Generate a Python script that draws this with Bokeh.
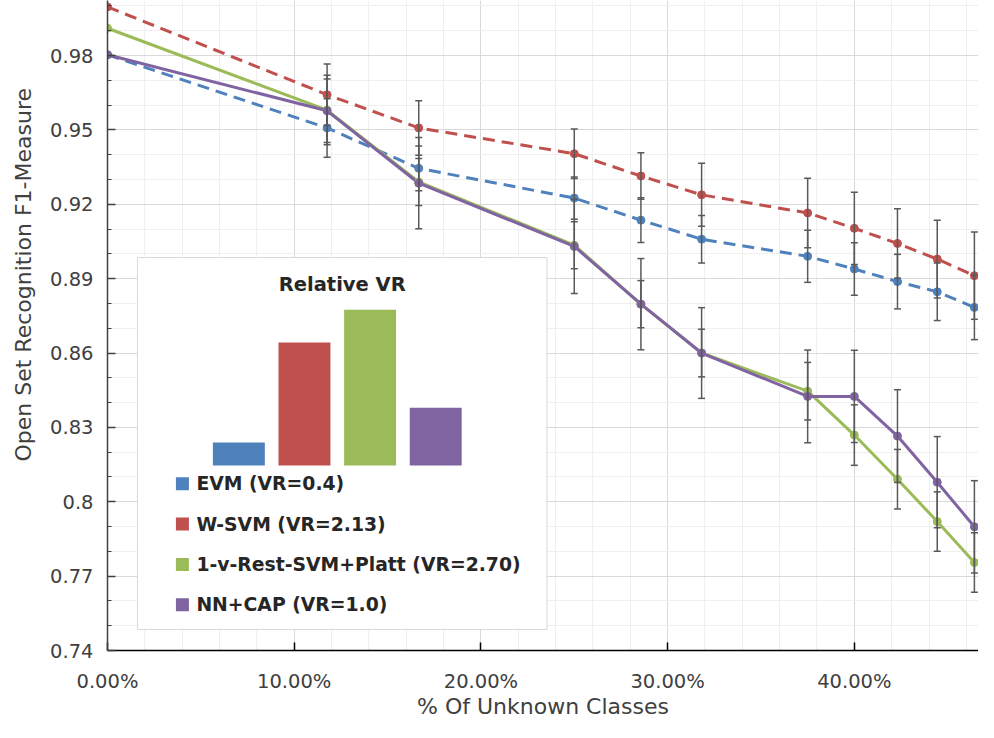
from bokeh.plotting import figure
from bokeh.models import (Range1d, FixedTicker, NumeralTickFormatter, CustomJSTickFormatter,
                          ColumnDataSource, Whisker, TeeHead, Title)
from bokeh.core.properties import value
from bokeh.embed import file_html
from bokeh.resources import INLINE

# ---------------- data ----------------
pct_unknown = [0.0, 0.1176, 0.1667, 0.25, 0.2857, 0.3182, 0.375, 0.40, 0.4231, 0.4444, 0.4643]

evm_f1 = [0.9803, 0.9508, 0.9345, 0.9225, 0.9136, 0.9059, 0.8990, 0.8939, 0.8888, 0.8847, 0.8784]
wsvm_f1 = [0.9996, 0.9642, 0.9508, 0.9404, 0.9314, 0.9238, 0.9165, 0.9103, 0.9042, 0.8979, 0.8912]
platt_f1 = [0.9910, 0.9580, 0.9290, 0.9035, 0.8797, 0.8600, 0.8446, 0.8269, 0.8091, 0.7920, 0.7755]
nncap_f1 = [0.9803, 0.9577, 0.9285, 0.9030, 0.8797, 0.8600, 0.8425, 0.8425, 0.8265, 0.8079, 0.7899]

evm_err = [0.0, 0.0118, 0.0090, 0.0085, 0.0090, 0.0096, 0.0105, 0.0106, 0.0110, 0.0116, 0.0130]
wsvm_err = [0.0, 0.0124, 0.0110, 0.0100, 0.0094, 0.0127, 0.0140, 0.0146, 0.0140, 0.0157, 0.0176]
platt_err = [0.0, 0.0140, 0.0095, 0.0095, 0.0095, 0.0096, 0.0116, 0.0122, 0.0120, 0.0120, 0.0120]
nncap_err = [0.0, 0.0128, 0.0184, 0.0190, 0.0184, 0.0183, 0.0187, 0.0186, 0.0187, 0.0184, 0.0186]

series_labels = ["EVM (VR=0.4)", "W-SVM (VR=2.13)", "1-v-Rest-SVM+Platt (VR=2.70)", "NN+CAP (VR=1.0)"]
relative_vr = [0.4, 2.13, 2.70, 1.0]

x_ticks = [0.0, 0.1, 0.2, 0.3, 0.4]
y_ticks = [0.74, 0.77, 0.80, 0.83, 0.86, 0.89, 0.92, 0.95, 0.98]

x_title = "% Of Unknown Classes"
y_title = "Open Set Recognition F1-Measure"
inset_title = "Relative VR"

# ---------------- style / layout ----------------
FONT = "DejaVu Sans"
TXT = "#404040"
colors = ["#4F81BD", "#C0504D", "#9BBB59", "#8064A2"]
dashes = ["12 7", "12 7", "solid", "solid"]

W, H = 978, 722
LEFT, BOTTOM = 106, 72
FRAME_W, FRAME_H = W - LEFT, H - BOTTOM

p = figure(width=W, height=H, min_border_left=LEFT, min_border_right=0, min_border_top=0,
           min_border_bottom=BOTTOM, x_range=Range1d(0, 0.4665), y_range=Range1d(0.74, 1.0022),
           output_backend="svg", toolbar_location=None, outline_line_color=None,
           background_fill_color="white", border_fill_color="white")

# pixel-like helper ranges for the inset (frame pixels, y measured down from frame top)
BASE_PX = 465.0       # bar baseline
PX_PER_VR = 57.7
below = FRAME_H - BASE_PX
p.extra_x_ranges = {"ix": Range1d(0, FRAME_W)}
p.extra_y_ranges = {"iy": Range1d(FRAME_H, 0),
                    "vr": Range1d(-below / PX_PER_VR, BASE_PX / PX_PER_VR)}

# ticks / grid
x_minor = [round(i * 0.02, 4) for i in range(24)]
y_minor = [round(0.74 + i * 0.01, 4) for i in range(27)]
xt = FixedTicker(ticks=x_ticks, minor_ticks=x_minor)
yt = FixedTicker(ticks=y_ticks, minor_ticks=y_minor)
p.xaxis.ticker = xt
p.yaxis.ticker = yt
p.xgrid.ticker = xt
p.ygrid.ticker = yt
for g in (p.xgrid, p.ygrid):
    g.grid_line_color = "#d9d9d9"
    g.grid_line_width = 1
    g.minor_grid_line_color = "#efefef"
    g.minor_grid_line_width = 1

p.xaxis.formatter = NumeralTickFormatter(format="0.00%")
p.yaxis.formatter = CustomJSTickFormatter(code="return String(Math.round(tick*100)/100);")

for ax in (p.xaxis, p.yaxis):
    ax.major_label_text_font = FONT
    ax.major_label_text_font_size = "19.5px"
    ax.major_label_text_color = TXT
    ax.major_tick_in = 8
    ax.major_tick_out = 0
    ax.major_tick_line_width = 1.5
p.xaxis.axis_line_color = "#000000"
p.xaxis.axis_line_width = 1.5
p.xaxis.major_tick_line_color = "#000000"
p.xaxis.minor_tick_line_color = None
p.xaxis.major_label_standoff = 15
p.xaxis.axis_label = x_title
p.xaxis.axis_label_standoff = -2
p.xaxis.axis_label_text_font = FONT
p.xaxis.axis_label_text_font_size = "22px"
p.xaxis.axis_label_text_font_style = "normal"
p.xaxis.axis_label_text_color = TXT

p.yaxis.axis_line_color = "#404040"
p.yaxis.axis_line_width = 1.5
p.yaxis.major_tick_line_color = "#404040"
p.yaxis.minor_tick_line_color = "#404040"
p.yaxis.minor_tick_in = 4
p.yaxis.minor_tick_out = 0
p.yaxis.major_label_standoff = 14

# y title as a left-side title, positioned along the axis like the reference
p.add_layout(Title(text=y_title, align="left", vertical_align="top", offset=189, standoff=20,
                   text_font=FONT, text_font_size="22px", text_font_style="normal",
                   text_color=TXT), "left")

# ---------------- series ----------------
all_f1 = [evm_f1, wsvm_f1, platt_f1, nncap_f1]
all_err = [evm_err, wsvm_err, platt_err, nncap_err]

for f1, col, dash in zip(all_f1, colors, dashes):
    p.line(pct_unknown, f1, line_color=col, line_width=3, line_dash=dash)

for f1, err in zip(all_f1, all_err):
    xs = [x for x, e in zip(pct_unknown, err) if e > 0]
    up = [v + e for v, e in zip(f1, err) if e > 0]
    lo = [v - e for v, e in zip(f1, err) if e > 0]
    src = ColumnDataSource(dict(x=xs, upper=up, lower=lo))
    w = Whisker(source=src, base="x", upper="upper", lower="lower", line_color="#595959",
                line_width=1.5, level="glyph",
                upper_head=TeeHead(size=7, line_color="#595959", line_width=1.5),
                lower_head=TeeHead(size=7, line_color="#595959", line_width=1.5))
    p.add_layout(w)

for f1, col in zip(all_f1, colors):
    p.scatter(pct_unknown, f1, size=8, fill_color=col, line_color=col)

# ---------------- inset (relative VR) ----------------
INSET_L, INSET_R, INSET_T, INSET_B = 30, 440, 257, 629
p.quad(left=[INSET_L], right=[INSET_R], top=[INSET_T], bottom=[INSET_B],
       x_range_name="ix", y_range_name="iy", fill_color="white",
       line_color="#d9d9d9", line_width=1)

BAR_X0, BAR_STEP, BAR_W = 131.5, 65.7, 52
bar_x = [BAR_X0 + i * BAR_STEP for i in range(len(relative_vr))]
p.vbar(x=bar_x, top=relative_vr, bottom=0, width=BAR_W, x_range_name="ix",
       y_range_name="vr", fill_color=colors, line_color=None)

p.text(x=[235], y=[284], text=[inset_title], x_range_name="ix", y_range_name="iy",
       text_font=value(FONT), text_font_style="bold", text_font_size="19.5px",
       text_align="center", text_baseline="middle", text_color="#262626")

LEG_X, LEG_Y0, LEG_STEP = 75, 483.3, 40.3
leg_y = [LEG_Y0 + i * LEG_STEP for i in range(len(series_labels))]
p.scatter(x=[LEG_X] * len(series_labels), y=leg_y, marker="square", size=13,
          fill_color=colors, line_color=None, x_range_name="ix", y_range_name="iy")
p.text(x=[LEG_X + 14] * len(series_labels), y=leg_y, text=series_labels,
       x_range_name="ix", y_range_name="iy", text_font=value(FONT), text_font_style="bold",
       text_font_size="18.8px", text_align="left", text_baseline="middle", text_color="#262626")

open("out.html", "w").write(file_html(p, INLINE))
